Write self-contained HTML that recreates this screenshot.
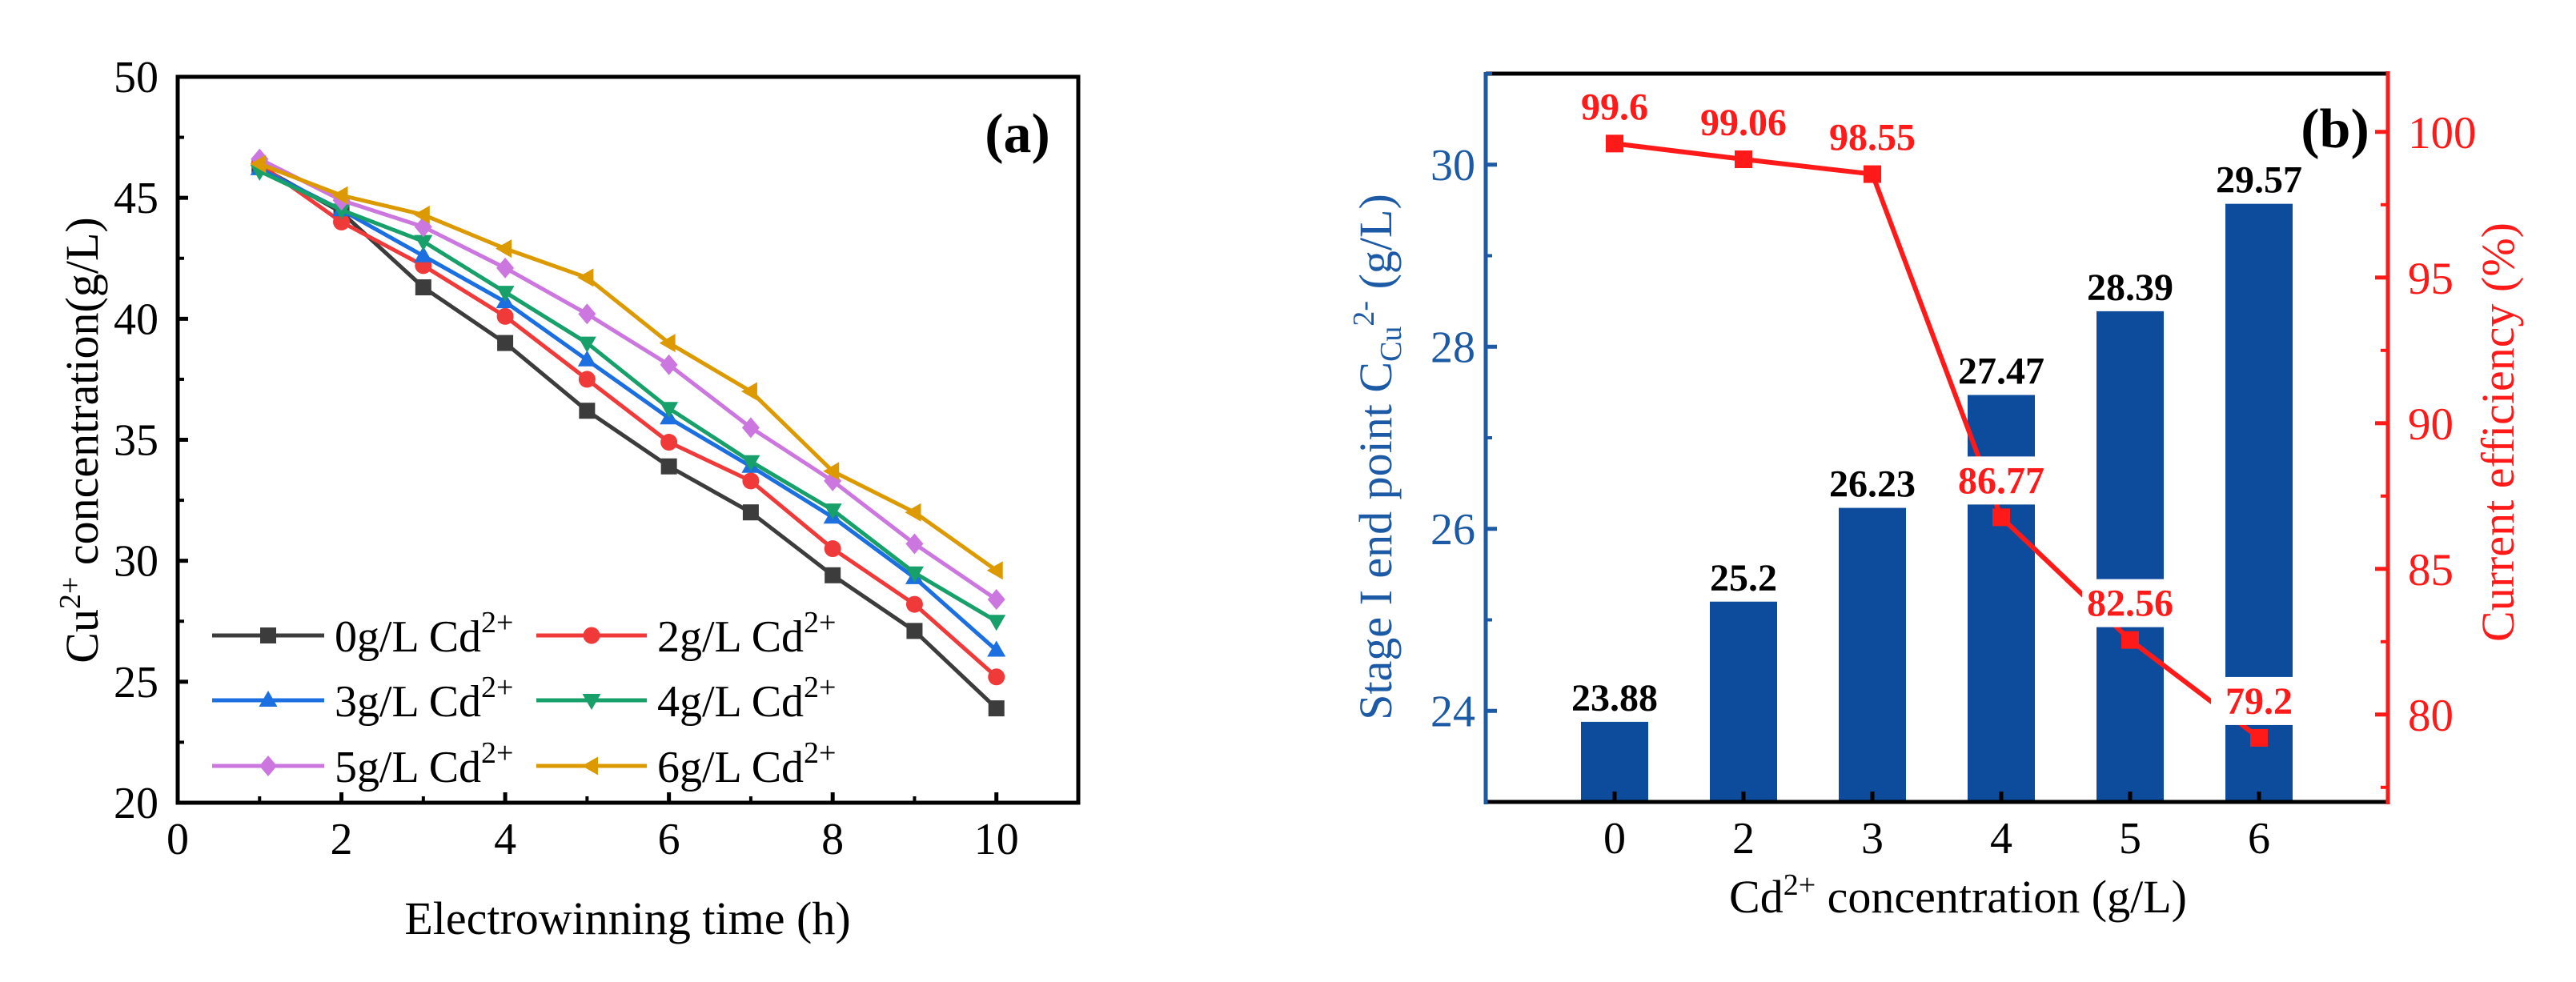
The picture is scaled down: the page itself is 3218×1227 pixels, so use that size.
<!DOCTYPE html>
<html><head><meta charset="utf-8"><style>
html,body{margin:0;padding:0;background:#fff;}
svg{display:block;}
svg text{font-family:"Liberation Serif","DejaVu Serif",serif;}
</style></head><body>
<svg id="fig" width="3218" height="1227" viewBox="0 0 3218 1227" font-family="Liberation Serif, DejaVu Serif, serif">
<g id="pa"></g>
<g id="pb"></g>
</svg>
<script>
// ---------- Panel (a) data ----------
const timeH = [1,2,3,4,5,6,7,8,9,10];
const cd0 = [46.3,44.4,41.3,39.0,36.2,33.9,32.0,29.4,27.1,23.9];
const cd2 = [46.4,44.0,42.2,40.1,37.5,34.9,33.3,30.5,28.2,25.2];
const cd3 = [46.2,44.5,42.6,40.7,38.3,35.9,33.9,31.8,29.3,26.3];
const cd4 = [46.1,44.5,43.2,41.1,39.0,36.3,34.1,32.1,29.5,27.5];
const cd5 = [46.6,44.9,43.8,42.1,40.2,38.1,35.5,33.3,30.7,28.4];
const cd6 = [46.4,45.1,44.3,42.9,41.7,39.0,37.0,33.7,32.0,29.6];
const seriesNames = ["0g/L Cd","2g/L Cd","3g/L Cd","4g/L Cd","5g/L Cd","6g/L Cd"];
const aXTicks = [0,2,4,6,8,10];
const aYTicks = [20,25,30,35,40,45,50];
// ---------- Panel (b) data ----------
const cdCats = ["0","2","3","4","5","6"];
const endPoint = [23.88,25.2,26.23,27.47,28.39,29.57];
const endPointLabels = ["23.88","25.2","26.23","27.47","28.39","29.57"];
const efficiency = [99.6,99.06,98.55,86.77,82.56,79.2];
const efficiencyLabels = ["99.6","99.06","98.55","86.77","82.56","79.2"];
const bLeftTicks = [24,26,28,30];
const bRightTicks = [80,85,90,95,100];

const NS="http://www.w3.org/2000/svg";
const FF="Liberation Serif, DejaVu Serif, serif";
function mk(parent,tag,attrs,text){const e=document.createElementNS(NS,tag);for(const k in attrs)e.setAttribute(k,attrs[k]);if(tag==='text')e.setAttribute('font-family',FF);if(text!==undefined)e.textContent=text;parent.appendChild(e);return e;}

// ===== Panel a =====
const pa=document.getElementById('pa');
const AL=222,AR=1347,AT=96,AB=1003;
const ax=v=>AL+(v-0)/(11-0)*(AR-AL);
const ay=v=>AB-(v-20)/(50-20)*(AB-AT);
const colors=["#3c3c3c","#f03a3a","#1b6fe0","#17a06a","#cc77e0","#dd9a00"];
const markers=["square","circle","tri-up","tri-down","diamond","tri-left"];
function marker(g,type,x,y,c,s){
  let e;
  if(type==="square")e=mk(g,'rect',{x:x-s,y:y-s,width:2*s,height:2*s,fill:c});
  else if(type==="circle")e=mk(g,'circle',{cx:x,cy:y,r:s*1.05,fill:c});
  else if(type==="tri-up")e=mk(g,'polygon',{points:`${x},${y-s*1.2} ${x+s*1.15},${y+s*0.8} ${x-s*1.15},${y+s*0.8}`,fill:c});
  else if(type==="tri-down")e=mk(g,'polygon',{points:`${x},${y+s*1.2} ${x+s*1.15},${y-s*0.8} ${x-s*1.15},${y-s*0.8}`,fill:c});
  else if(type==="diamond")e=mk(g,'polygon',{points:`${x},${y-s*1.3} ${x+s*1.1},${y} ${x},${y+s*1.3} ${x-s*1.1},${y}`,fill:c});
  else e=mk(g,'polygon',{points:`${x-s*1.2},${y} ${x+s*0.8},${y-s*1.15} ${x+s*0.8},${y+s*1.15}`,fill:c});
  
  
}
const allSeries=[cd0,cd2,cd3,cd4,cd5,cd6];
allSeries.forEach((vals,si)=>{
  const g=mk(pa,'g',{});
  
  
  const pts=vals.map((v,i)=>ax(timeH[i])+','+ay(v)).join(' ');
  const pl=mk(g,'polyline',{points:pts,fill:'none',stroke:colors[si],'stroke-width':5});
  
  
  vals.forEach((v,i)=>marker(g,markers[si],ax(timeH[i]),ay(v),colors[si],10));
});
const fa=mk(pa,'rect',{x:AL,y:AT,width:AR-AL,height:AB-AT,fill:'none',stroke:'#000','stroke-width':5});

aYTicks.forEach(t=>{
  mk(pa,'line',{x1:AL,x2:AL+13,y1:ay(t),y2:ay(t),stroke:'#000','stroke-width':5});
  if(t<50)mk(pa,'line',{x1:AL,x2:AL+8,y1:ay(t+2.5),y2:ay(t+2.5),stroke:'#000','stroke-width':4});
  const tx=mk(pa,'text',{x:198,y:ay(t)+19,'font-size':56,'text-anchor':'end'},String(t));
  
});
aXTicks.forEach(t=>{
  mk(pa,'line',{x1:ax(t),x2:ax(t),y1:AB,y2:AB-13,stroke:'#000','stroke-width':5});
  mk(pa,'line',{x1:ax(t+1),x2:ax(t+1),y1:AB,y2:AB-8,stroke:'#000','stroke-width':4});
  const tx=mk(pa,'text',{x:ax(t),y:1067,'font-size':56,'text-anchor':'middle'},String(t));
  
});
let t=mk(pa,'text',{x:784,y:1167,'font-size':58,'text-anchor':'middle'},'Electrowinning time (h)');

t=mk(pa,'text',{x:0,y:0,'font-size':58,'text-anchor':'middle',transform:'translate(122,550) rotate(-90)'});

t.innerHTML='Cu<tspan dy="-22" font-size="38">2+</tspan><tspan dy="22"> concentration(g/L)</tspan>';
t=mk(pa,'text',{x:1271,y:190,'font-size':70,'font-weight':'bold','text-anchor':'middle'},'(a)');

const legRows=[794,875,957],legCols=[[265,405,418],[670,808,821]];
seriesNames.forEach((n,i)=>{
  const c=i%2,r=Math.floor(i/2);
  const g=mk(pa,'g',{});
  
  const [x1,x2,tx]=legCols[c],y=legRows[r];
  mk(g,'line',{x1:x1,x2:x2,y1:y,y2:y,stroke:colors[i],'stroke-width':5});
  marker(g,markers[i],(x1+x2)/2,y,colors[i],10);
  const te=mk(g,'text',{x:tx,y:y+20,'font-size':56});
  te.innerHTML=n+'<tspan dy="-24" font-size="38">2+</tspan>';
});

// ===== Panel b =====
const pb=document.getElementById('pb');
const BL=1856,BR=2983,BT=92,BB=1002;
const bx=i=>BL+(i+1)*(BR-BL)/7;
const byL=v=>BB-(v-23)/(31-23)*(BB-BT);
const byR=v=>BB-(v-77)/(102-77)*(BB-BT);
const barC="#0d4c9c",blueT="#1d5aa6",red="#ff1a1a";
endPoint.forEach((v,i)=>{
  const r=mk(pb,'rect',{x:bx(i)-42,y:byL(v),width:84,height:BB-byL(v),fill:barC});
  
});
endPointLabels.forEach((l,i)=>{
  const te=mk(pb,'text',{x:bx(i),y:byL(endPoint[i])-14,'font-size':48,'font-weight':'bold','text-anchor':'middle'},l);
  
});
const rl=mk(pb,'polyline',{points:efficiency.map((v,i)=>bx(i)+','+byR(v)).join(' '),fill:'none',stroke:red,'stroke-width':6});

efficiency.forEach((v,i)=>{
  const m=mk(pb,'rect',{x:bx(i)-11,y:byR(v)-11,width:22,height:22,fill:red});
  
});
efficiencyLabels.forEach((l,i)=>{
  const y=byR(efficiency[i])-46;
  if(i>=3){const bg=mk(pb,'rect',{x:bx(i)-60,y:y-30,width:120,height:60,fill:'#fff'});
    }
  const te=mk(pb,'text',{x:bx(i),y:y+16,'font-size':48,'font-weight':'bold','text-anchor':'middle',fill:red},l);
  
});
mk(pb,'line',{x1:BL,x2:BR,y1:BT,y2:BT,stroke:'#000','stroke-width':5});
mk(pb,'line',{x1:BL,x2:BR,y1:BB,y2:BB,stroke:'#000','stroke-width':5});
let ln=mk(pb,'line',{x1:BL,x2:BL,y1:BT-2,y2:BB+3,stroke:blueT,'stroke-width':5});

ln=mk(pb,'line',{x1:BR,x2:BR,y1:BT-3,y2:BB+3,stroke:red,'stroke-width':5});

bLeftTicks.forEach(v=>{
  mk(pb,'line',{x1:BL,x2:BL+14,y1:byL(v),y2:byL(v),stroke:blueT,'stroke-width':5});
  mk(pb,'line',{x1:BL,x2:BL+8,y1:byL(v+1),y2:byL(v+1),stroke:blueT,'stroke-width':4});
  const te=mk(pb,'text',{x:1843,y:byL(v)+19,'font-size':56,'text-anchor':'end',fill:blueT},String(v));
  
});
bRightTicks.forEach(v=>{
  mk(pb,'line',{x1:BR,x2:BR-16,y1:byR(v),y2:byR(v),stroke:red,'stroke-width':5});
  mk(pb,'line',{x1:BR,x2:BR-9,y1:byR(v-2.5),y2:byR(v-2.5),stroke:red,'stroke-width':4});
  const te=mk(pb,'text',{x:3008,y:byR(v)+20,'font-size':57,fill:red},String(v));
  
});
cdCats.forEach((c,i)=>{
  mk(pb,'line',{x1:bx(i),x2:bx(i),y1:BB,y2:BB-13,stroke:'#000','stroke-width':5});
  const te=mk(pb,'text',{x:bx(i),y:1066,'font-size':56,'text-anchor':'middle'},c);
  
});
t=mk(pb,'text',{x:2446,y:1140,'font-size':58,'text-anchor':'middle'});

t.innerHTML='Cd<tspan dy="-22" font-size="38">2+</tspan><tspan dy="22"> concentration (g/L)</tspan>';
t=mk(pb,'text',{x:0,y:0,'font-size':58,'text-anchor':'middle',fill:blueT,transform:'translate(1738,571) rotate(-90)'});

t.innerHTML='Stage I end point C<tspan dy="12" font-size="38">Cu</tspan><tspan dy="-34" font-size="38">2-</tspan><tspan dy="22"> (g/L)</tspan>';
t=mk(pb,'text',{x:0,y:0,'font-size':58,'text-anchor':'middle',fill:red,transform:'translate(3140,540) rotate(-90)'},'Current efficiency (%)');

t=mk(pb,'text',{x:2917,y:184,'font-size':70,'font-weight':'bold','text-anchor':'middle'},'(b)');

</script>
</body></html>
